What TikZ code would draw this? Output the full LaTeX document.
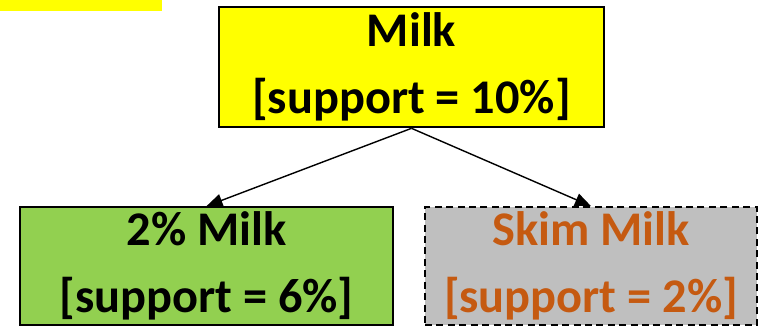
\documentclass[tikz,border=0pt]{standalone}
\usepackage{fontspec}
\setmainfont{Carlito}
\usetikzlibrary{arrows.meta, positioning}
\definecolor{milkyellow}{HTML}{FFFF00}
\definecolor{milkgreen}{HTML}{92D050}
\definecolor{milkgray}{HTML}{BFBFBF}
\definecolor{milkorange}{HTML}{C55A11}

\begin{document}
\begin{tikzpicture}[
    >={Triangle[length=0.32cm,width=0.26cm]},
    every node/.style={font=\fontsize{27.5}{38}\selectfont\bfseries, align=center},
    itembox/.style={draw, rectangle, inner sep=0pt}
]
    \useasboundingbox (0,0) rectangle (15.22,-6.56);
    \fill[milkyellow] (0,0) rectangle (3.24,-0.22);

    \node[itembox, fill=milkyellow, line width=1.5pt, minimum width=7.7cm, minimum height=2.4cm] (milk) at (8.23,-1.34) {Milk\\{[support = 10\%]}};
    \node[itembox, fill=milkgreen, line width=1pt, minimum width=7.46cm, minimum height=2.36cm] (twopct) at (4.13,-5.32) {2\% Milk\\{[support = 6\%]}};
    \node[itembox, fill=milkgray, dash pattern=on 4pt off 2.5pt, line width=1pt, text=milkorange, minimum width=6.64cm, minimum height=2.36cm] (skim) at (11.82,-5.32) {Skim Milk\\{[support = 2\%]}};

    \draw[->, line width=0.8pt] (milk.south) -- (twopct.north);
    \draw[->, line width=0.8pt] (milk.south) -- (skim.north);
\end{tikzpicture}
\end{document}
